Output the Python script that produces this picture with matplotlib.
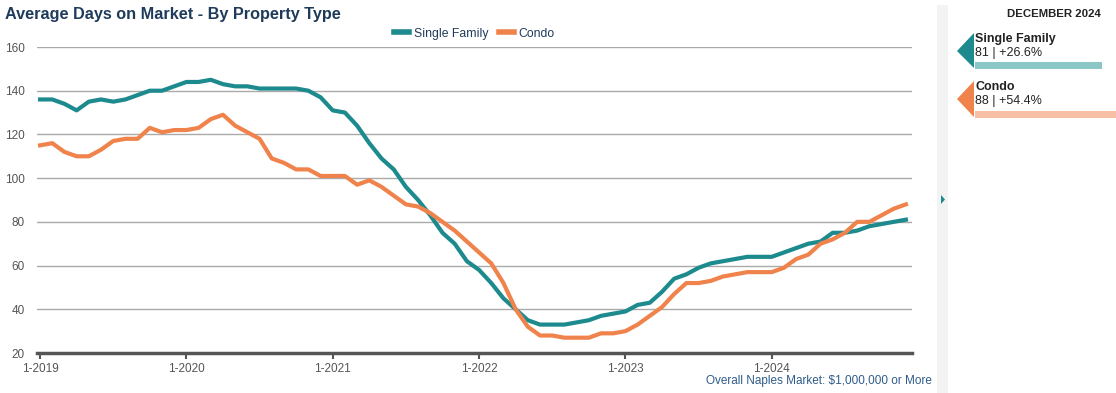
import numpy as np
import matplotlib
matplotlib.use("Agg")
import matplotlib.pyplot as plt
from matplotlib.patches import Polygon, Rectangle

plt.rcParams['font.family'] = ['Liberation Sans', 'DejaVu Sans']

W, H = 1116, 393

# monthly values, Jan 2019 .. Dec 2024
single_family = [136, 136, 134, 131, 135, 136, 135, 136, 138, 140, 140, 142,
                 144, 144, 145, 143, 142, 142, 141, 141, 141, 141, 140, 137,
                 131, 130, 124, 116, 109, 104, 96, 90, 83, 75, 70, 62,
                 58, 52, 45, 40, 35, 33, 33, 33, 34, 35, 37, 38,
                 39, 42, 43, 48, 54, 56, 59, 61, 62, 63, 64, 64,
                 64, 66, 68, 70, 71, 75, 75, 76, 78, 79, 80, 81]
condo = [115, 116, 112, 110, 110, 113, 117, 118, 118, 123, 121, 122,
         122, 123, 127, 129, 124, 121, 118, 109, 107, 104, 104, 101,
         101, 101, 97, 99, 96, 92, 88, 87, 84, 80, 76, 71,
         66, 61, 52, 40, 32, 28, 28, 27, 27, 27, 29, 29,
         30, 33, 37, 41, 47, 52, 52, 53, 55, 56, 57, 57,
         57, 59, 63, 65, 70, 72, 75, 80, 80, 83, 86, 88]
tick_labels = ['1-2019', '1-2020', '1-2021', '1-2022', '1-2023', '1-2024']
series_names = ['Single Family', 'Condo']
latest_text = ['81 | +26.6%', '88 | +54.4%']

TEAL = '#1d8a8e'
ORANGE = '#f0834b'
NAVY = '#1f3b5c'
GREY = '#555555'


def fx(x):
    return x / W


def fy(y):
    return 1 - y / H


fig = plt.figure(figsize=(W / 100, H / 100), dpi=100)
ax = fig.add_axes([fx(37), fy(353), fx(912) - fx(37), fy(47) - fy(353)])

months = np.arange(len(single_family))
ax.plot(months, single_family, color=TEAL, lw=3, label=series_names[0],
        solid_joinstyle='round')
ax.plot(months, condo, color=ORANGE, lw=3, label=series_names[1],
        solid_joinstyle='round')

ax.set_xlim(-0.25, 71.5)
ax.set_ylim(20, 160)
ax.set_yticks(range(20, 161, 20))
ax.set_xticks(range(0, 72, 12))
ax.set_xticklabels(tick_labels)
ax.grid(axis='y', color='#aaaaaa', lw=1)
ax.set_axisbelow(True)
for s in ['top', 'right', 'left']:
    ax.spines[s].set_visible(False)
ax.spines['bottom'].set_color(GREY)
ax.spines['bottom'].set_linewidth(2.5)
ax.tick_params(axis='y', length=0, pad=9, labelsize=8.5, labelcolor=GREY)
ax.tick_params(axis='x', length=4, width=1.5, color=GREY, pad=3,
               labelsize=8.5, labelcolor=GREY)

leg = ax.legend(loc='lower center', bbox_to_anchor=(0.5, 1.0), ncol=2,
                frameon=False, fontsize=8.8, handlelength=1.2,
                columnspacing=0.9, handletextpad=0.4, borderaxespad=0.2)
for t in leg.get_texts():
    t.set_color(NAVY)
for h in leg.get_lines():
    h.set_linewidth(4)

fig.text(fx(5), fy(14), 'Average Days on Market - By Property Type',
         fontsize=11.7, fontweight='bold', color=NAVY, va='center')
fig.text(fx(932), fy(381), 'Overall Naples Market: $1,000,000 or More',
         fontsize=8.5, color='#2f5c8a', ha='right', va='center')

# sidebar
fig.add_artist(Rectangle((fx(937), fy(393)), fx(11), fy(5) - fy(393),
                         transform=fig.transFigure, color='#f3f3f3', lw=0))
fig.add_artist(Polygon([(fx(941), fy(195)), (fx(941), fy(204)),
                        (fx(945), fy(199.5))], closed=True,
                       transform=fig.transFigure, color=TEAL, lw=0))

fig.text(fx(1101), fy(14), 'DECEMBER 2024', fontsize=8.2, fontweight='bold',
         color='#222222', ha='right', va='center')

blocks = [(33, 68, 51, TEAL, '#8cc7c8', 1102),
          (81, 117, 99, ORANGE, '#f7bfa3', 1116)]
for (top, bot, mid, col, bar_col, bar_end), name, txt in zip(blocks, series_names, latest_text):
    fig.add_artist(Polygon([(fx(957), fy(mid)), (fx(974), fy(top)),
                            (fx(974), fy(bot))], closed=True,
                           transform=fig.transFigure, color=col, lw=0))
    fig.text(fx(975), fy(top + 6), name, fontsize=9, fontweight='bold',
             color='#222222', va='center')
    fig.text(fx(975), fy(top + 20), txt, fontsize=9, color='#222222',
             va='center')
    fig.add_artist(Rectangle((fx(975), fy(bot + 1)), fx(bar_end - 975),
                             fy(bot - 6) - fy(bot + 1),
                             transform=fig.transFigure, color=bar_col, lw=0))

fig.savefig('out.png', dpi=100)
